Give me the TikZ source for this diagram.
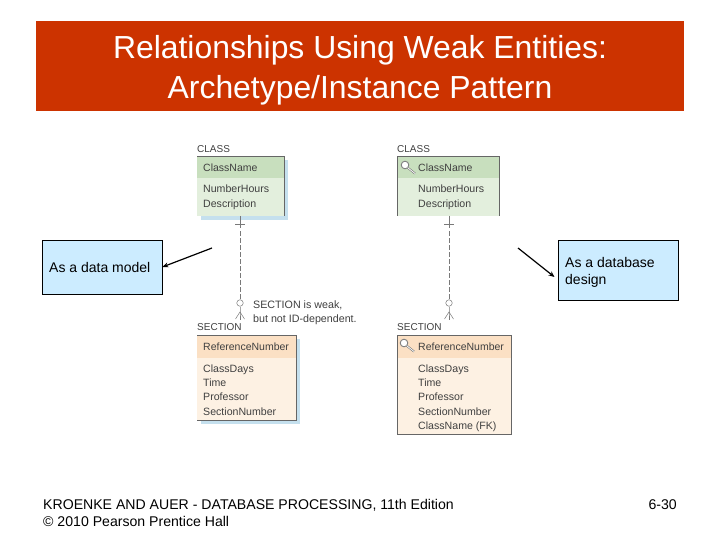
\documentclass[tikz,border=0pt]{standalone}
\usepackage{fontspec}
\setmainfont{Liberation Sans}
\usetikzlibrary{arrows.meta}
\definecolor{titlered}{HTML}{CC3300}
\definecolor{callout}{HTML}{CCECFF}
\definecolor{greenhead}{HTML}{C8DFBE}
\definecolor{greenbody}{HTML}{E3EFDD}
\definecolor{orangehead}{HTML}{FBE0C4}
\definecolor{orangebody}{HTML}{FDF1E3}
\definecolor{shadowblue}{HTML}{C5E0EE}
\definecolor{ink}{HTML}{404040}
\tikzset{
  x=1pt,y=-1pt,
  callbox/.style={draw=black,line width=.8pt,fill=callout,inner sep=0pt},
  calltext/.style={anchor=west,align=left,font=\fontsize{14}{17}\selectfont,inner sep=0pt},
  foot/.style={anchor=south west,font=\fontsize{14.1}{17}\selectfont,inner sep=0pt,align=left},
  enttitle/.style={anchor=west,font=\fontsize{10}{12}\selectfont,text=ink,inner sep=0pt},
  attr/.style={anchor=north west,align=left,font=\fontsize{10.6}{14.3}\selectfont,text=ink,inner sep=0pt},
  keyattr/.style={anchor=west,font=\fontsize{10.5}{12}\selectfont,text=ink,inner sep=0pt},
  frameline/.style={draw=ink!80,line width=.6pt},
  rel/.style={draw=ink!70,line width=.5pt},
  reld/.style={rel,dash pattern=on 4.5pt off 2.5pt},
  pointer/.style={draw=black,line width=1.2pt,-{Stealth[length=6pt,width=5pt]}},
  keyicon/.pic={
    \draw[gray,line width=.9pt,fill=white] (0,0) circle (3.8);
    \draw[gray,line width=2pt] (2.6,2.6) -- (10,8.5);
    \draw[white,line width=.7pt] (2.6,2.6) -- (10,8.5);
  }
}
\begin{document}
\begin{tikzpicture}
\useasboundingbox (0,0) rectangle (720,540);
\fill[white] (0,0) rectangle (720,540);
% title
\fill[titlered] (36,21) rectangle (684,111);
\node[text=white,align=center,font=\fontsize{23.5}{29.5}\selectfont,inner sep=0pt,scale=1.357] (title) at (360,70.5) {Relationships Using Weak Entities:\\Archetype/Instance Pattern};
% left CLASS
\fill[shadowblue] (201,160) rectangle (288,220);
\fill[greenbody] (197,156) rectangle (284,216);
\fill[greenhead] (197,156) rectangle (284,178);
\draw[frameline] (197,156) -- (284,156) -- (284,216);
\node[enttitle] (c1t) at (197,149) {CLASS};
\node[keyattr] (c1k) at (203,167.5) {ClassName};
\node[attr] (c1a) at (203,185) {NumberHours\\Description};
% right CLASS
\fill[greenbody] (397,156) rectangle (499,216);
\fill[greenhead] (397,156) rectangle (499,178);
\draw[frameline] (397,216) -- (397,156) -- (499,156) -- (499,216);
\node[enttitle] (c2t) at (397,149) {CLASS};
\pic at (405,165) {keyicon};
\node[keyattr] (c2k) at (418,167.5) {ClassName};
\node[attr] (c2a) at (418,185) {NumberHours\\Description};
% left SECTION
\fill[shadowblue] (201,339) rectangle (300,424);
\fill[orangebody] (197,335) rectangle (296,420);
\fill[orangehead] (197,335) rectangle (296,358);
\draw[frameline] (197,335) -- (296,335) -- (296,420) -- (197,420);
\node[enttitle] (s1t) at (197,327) {SECTION};
\node[keyattr] (s1k) at (203,346.5) {ReferenceNumber};
\node[attr] (s1a) at (203,364.5) {ClassDays\\Time\\Professor\\SectionNumber};
% right SECTION
\fill[orangebody] (397,335) rectangle (511,434);
\fill[orangehead] (397,335) rectangle (511,358);
\draw[frameline] (397,335) rectangle (511,434);
\node[enttitle] (s2t) at (397,327) {SECTION};
\pic at (404,343) {keyicon};
\node[keyattr] (s2k) at (418,346.5) {ReferenceNumber};
\node[attr] (s2a) at (418,364.5) {ClassDays\\Time\\Professor\\SectionNumber\\ClassName (FK)};
% relationship anchors
\coordinate (l1) at (240,216);
\coordinate (l2) at (240,299.5);
\coordinate (l4) at (240,312);
\coordinate (l5) at (240,319.5);
\coordinate (r1) at (449,216);
\coordinate (r2) at (449,299.5);
\coordinate (r4) at (449,312);
\coordinate (r5) at (449,319.5);
\draw[rel] (l1) -- (240,224);
\draw[rel] (235,224.5) -- (245,224.5);
\draw[reld] (240,224) -- (l2);
\node[draw=ink!70,line width=.5pt,circle,minimum size=6.5pt,inner sep=0pt] (lc) at (240,303) {};
\draw[rel] (lc) -- (l4) -- (l5);
\draw[rel] (235.5,319) -- (l4) -- (244.5,319);
\draw[rel] (r1) -- (449,224);
\draw[rel] (444,224.5) -- (454,224.5);
\draw[reld] (449,224) -- (r2);
\node[draw=ink!70,line width=.5pt,circle,minimum size=6.5pt,inner sep=0pt] (rc) at (449,303) {};
\draw[rel] (rc) -- (r4) -- (r5);
\draw[rel] (444.5,319) -- (r4) -- (453.5,319);
\node[attr,font=\fontsize{10.7}{14}\selectfont] (note) at (253,301) {SECTION is weak,\\but not ID-dependent.};
% callouts
\node[callbox,minimum width=120pt,minimum height=54pt] (bl) at (102,267) {};
\node[calltext] (blt) at (49,267) {As a data model};
\node[callbox,minimum width=120pt,minimum height=60pt] (br) at (618,270) {};
\node[calltext] (brt) at (565,272) {As a database\\design};
\coordinate (al) at (212,248);
\coordinate (ar) at (518,248);
\draw[pointer] (al) -- (bl.east);
\draw[pointer] (ar) -- (554.5,277);
% footer
\node[foot] (f1) at (43,526.5) {KROENKE AND AUER - DATABASE PROCESSING, 11th Edition\\© 2010 Pearson Prentice Hall};
\node[anchor=south east,inner sep=0pt,font=\fontsize{14.1}{17}\selectfont] (pg) at (677,509.5) {6-30};
\end{tikzpicture}
\end{document}
